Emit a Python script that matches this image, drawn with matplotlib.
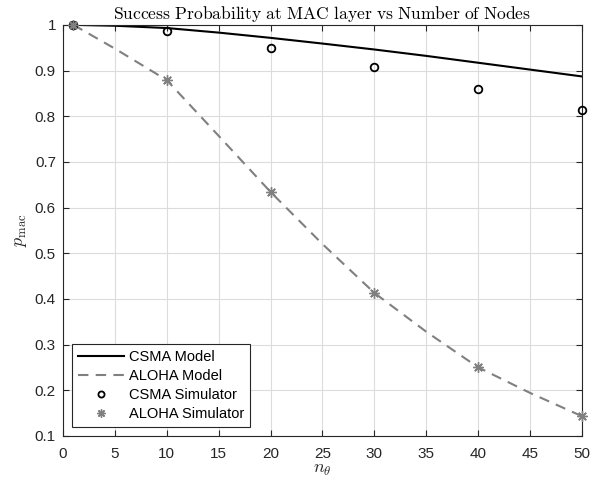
import matplotlib
matplotlib.use("Agg")
import matplotlib.pyplot as plt

# node counts
n_model = [1, 5, 10, 15, 20, 25, 30, 35, 40, 45, 50]
n_sim = [1, 10, 20, 30, 40, 50]

# values
csma_model = [1.0, 0.998, 0.993, 0.983, 0.9715, 0.959, 0.946, 0.932, 0.917, 0.902, 0.887]
aloha_model = [1.0, 0.948, 0.879, 0.757, 0.634, 0.52, 0.413, 0.328, 0.25, 0.194, 0.143]
csma_sim = [1.0, 0.986, 0.950, 0.907, 0.859, 0.813]
aloha_sim = [1.0, 0.879, 0.634, 0.413, 0.25, 0.143]

plt.rcParams['font.family'] = ['Liberation Sans', 'DejaVu Sans']
plt.rcParams['mathtext.fontset'] = 'cm'

gray = (0.5, 0.5, 0.5)

fig = plt.figure(figsize=(6.05, 4.87), dpi=100)
ax = fig.add_axes([0.104, 0.105, 0.858, 0.844])

ax.plot(n_model, csma_model, color='black', lw=1.5, label='CSMA Model')
ax.plot(n_model, aloha_model, color=gray, lw=1.5, ls=(0, (5, 3.5)), label='ALOHA Model')
ax.plot(n_sim, csma_sim, ls='none', marker='o', mfc='none', mec='black', mew=1.3, ms=5.5,
        label='CSMA Simulator', clip_on=False, zorder=4)
ax.plot(n_sim, aloha_sim, ls='none', marker=(8, 2, 0), mec=gray, mew=1.0, ms=7.5,
        label='ALOHA Simulator', clip_on=False, zorder=4)

ax.set_xlim(0, 50)
ax.set_ylim(0.1, 1)
ax.set_xticks(range(0, 51, 5))
ax.set_yticks([0.1, 0.2, 0.3, 0.4, 0.5, 0.6, 0.7, 0.8, 0.9, 1])
ax.set_yticklabels(['0.1', '0.2', '0.3', '0.4', '0.5', '0.6', '0.7', '0.8', '0.9', '1'])
ax.tick_params(direction='in', top=True, right=True, labelsize=11, color='#262626',
               labelcolor='#262626', length=4)
ax.tick_params(axis='x', pad=8)
ax.tick_params(axis='y', pad=5)
ax.grid(True, color='#dcdcdc', lw=0.8)
ax.set_axisbelow(True)
for s in ax.spines.values():
    s.set_color('#262626')
    s.set_linewidth(0.8)

ax.set_title(r'$\mathrm{Success\ Probability\ at\ MAC\ layer\ vs\ Number\ of\ Nodes}$',
             fontsize=12.6, pad=4)
ax.set_xlabel(r'$n_\theta$', fontsize=13, color='#262626', labelpad=0)
ax.set_ylabel(r'$p_{\mathrm{mac}}$', fontsize=13, color='#262626', labelpad=4)

leg = ax.legend(loc='lower left', fontsize=10.5, fancybox=False, edgecolor='#262626',
                framealpha=1, borderaxespad=0.6, handlelength=3.2, handletextpad=0.3,
                labelspacing=0.35, markerscale=0.8)
leg.get_frame().set_linewidth(0.8)

fig.savefig('out.png', dpi=100)
